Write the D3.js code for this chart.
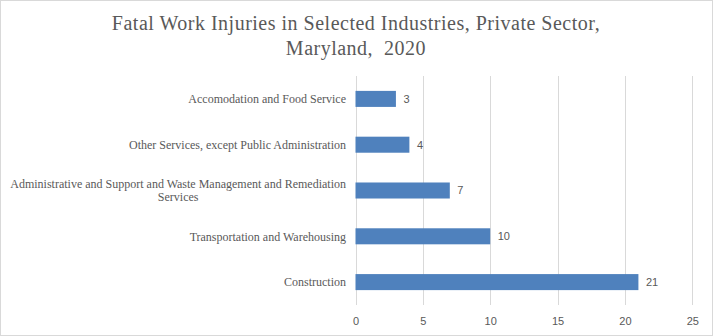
<!DOCTYPE html>
<html><head><meta charset="utf-8">
<script src="https://cdn.jsdelivr.net/npm/d3@7"></script>
<style>
html,body{margin:0;padding:0;background:#fff;}
svg{display:block;}
</style>
</head><body>
<svg id="chart" width="713" height="336"></svg>
<script>
const categories = [
  ["Accomodation and Food Service"],
  ["Other Services, except Public Administration"],
  ["Administrative and Support and Waste Management and Remediation", "Services"],
  ["Transportation and Warehousing"],
  ["Construction"]
];
const values = [3, 4, 7, 10, 21];
const tickValues = [0, 5, 10, 15, 20, 25];
const titleLines = ["Fatal Work Injuries in Selected Industries, Private Sector,", "Maryland,\u00a0 2020"];

const W = 713, H = 336;
const svg = d3.select("#chart");
svg.append("rect").attr("x", 0.5).attr("y", 0.5).attr("width", W - 1).attr("height", H - 1)
  .attr("fill", "#fff").attr("stroke", "#d9d9d9");

const plot = {left: 355.5, right: 692.3, top: 76, bottom: 305};
const x = d3.scaleLinear().domain([0, 25]).range([plot.left, plot.right]);
const y = d3.scaleBand().domain(d3.range(categories.length)).range([plot.top, plot.bottom])
  .paddingInner(0.65).paddingOuter(0.325);

// title
const title = svg.append("text").attr("text-anchor", "middle")
  .attr("font-family", "'Liberation Serif', 'Times New Roman', serif")
  .attr("font-size", 20).attr("letter-spacing", 0.5).attr("fill", "#595959");
titleLines.forEach((t, i) => title.append("tspan").attr("x", 356).attr("y", 30 + i * 24.5).text(t));

// gridlines
const axis = d3.axisBottom(x).tickValues(tickValues).tickSize(-(plot.bottom - plot.top)).tickPadding(8);
const gAx = svg.append("g").attr("transform", `translate(0,${plot.bottom})`).call(axis);
gAx.select(".domain").remove();
gAx.selectAll(".tick line").attr("stroke", "#d9d9d9").attr("shape-rendering", "crispEdges");
gAx.selectAll(".tick text").attr("font-family", "'Liberation Sans', Arial, sans-serif")
  .attr("font-size", 11).attr("fill", "#595959").attr("dy", "0.71em").attr("y", 12);

// bars
svg.append("g").selectAll("rect").data(values).join("rect")
  .attr("x", x(0)).attr("y", (d, i) => y(i))
  .attr("width", d => x(d) - x(0)).attr("height", y.bandwidth())
  .attr("fill", "#4f81bd");

// data labels
svg.append("g").selectAll("text").data(values).join("text")
  .attr("x", d => x(d) + 7.5).attr("y", (d, i) => y(i) + y.bandwidth() / 2)
  .attr("dy", "0.35em")
  .attr("font-family", "'Liberation Sans', Arial, sans-serif")
  .attr("font-size", 11).attr("fill", "#595959").text(d => d);

// category labels
const lh = 12.5;
const catG = svg.append("g").attr("font-family", "'Liberation Serif', 'Times New Roman', serif")
  .attr("font-size", 12).attr("fill", "#595959");
categories.forEach((lines, i) => {
  const cy = y(i) + y.bandwidth() / 2;
  const t = catG.append("text").attr("text-anchor", lines.length > 1 ? "middle" : "end");
  lines.forEach((ln, j) => {
    t.append("tspan").attr("x", 346).attr("y", cy + (j - (lines.length - 1) / 2) * lh).attr("dy", "0.35em").text(ln);
  });
  if (lines.length > 1) {
    const w = t.node().getBBox().width;
    t.selectAll("tspan").attr("x", 346 - w / 2);
  }
});
</script>
</body></html>
